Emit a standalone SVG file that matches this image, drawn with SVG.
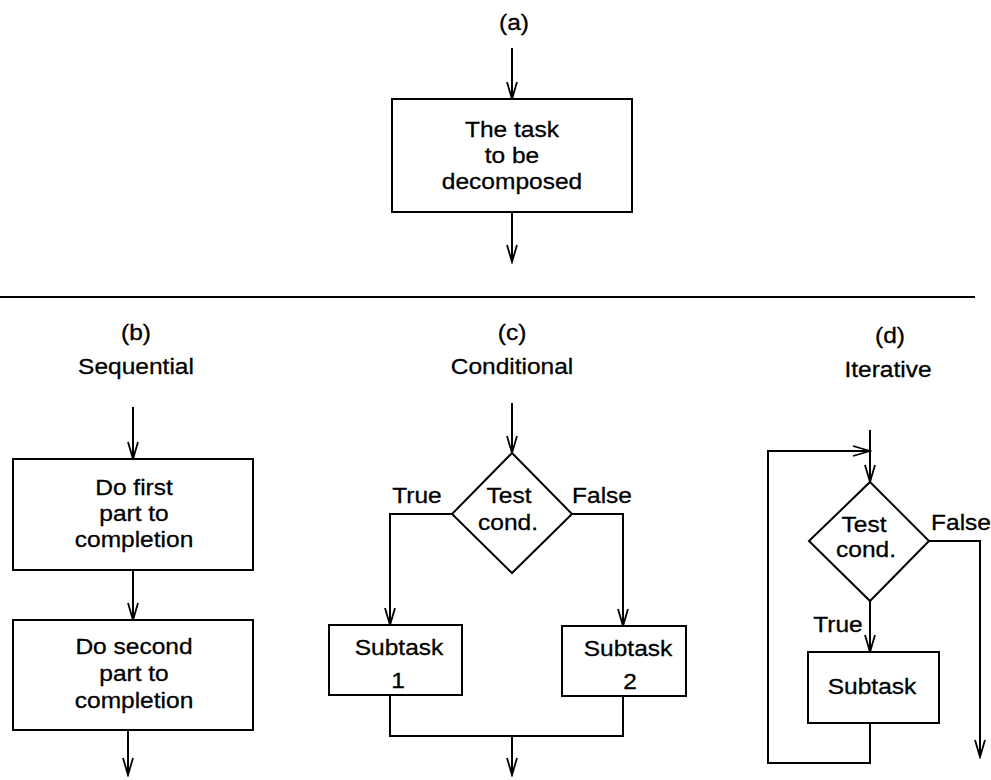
<svg xmlns="http://www.w3.org/2000/svg" width="991" height="780" viewBox="0 0 991 780">
<defs>
<marker id="arr" markerUnits="userSpaceOnUse" viewBox="-18 -7 20 14" refX="0" refY="0" markerWidth="20" markerHeight="14" orient="auto">
<path d="M -17 -5 L 0 0 L -17 5" fill="none" stroke="#000" stroke-width="1.8"/>
</marker>
</defs>
<style>
.ln{fill:none;stroke:#000;stroke-width:2}
.bx{fill:#fff;stroke:#000;stroke-width:2}
text{font-family:"Liberation Sans",Arial,Helvetica,sans-serif;font-size:22.5px;fill:#000;stroke:#000;stroke-width:0.3;text-anchor:middle}
</style>
<rect width="991" height="780" fill="#fff"/>
<g id="connectors">
<line class="ln" x1="512" y1="48" x2="512" y2="99" marker-end="url(#arr)"/>
<line class="ln" x1="512" y1="212" x2="512" y2="262" marker-end="url(#arr)"/>
<line class="ln" x1="0" y1="297" x2="975" y2="297"/>
<line class="ln" x1="133" y1="407" x2="133" y2="459" marker-end="url(#arr)"/>
<line class="ln" x1="133" y1="570" x2="133" y2="620" marker-end="url(#arr)"/>
<line class="ln" x1="128" y1="730" x2="128" y2="775" marker-end="url(#arr)"/>
<line class="ln" x1="512" y1="403" x2="512" y2="453" marker-end="url(#arr)"/>
<polyline class="ln" points="452,514 390,514 390,625" marker-end="url(#arr)"/>
<polyline class="ln" points="572,514 623,514 623,626" marker-end="url(#arr)"/>
<polyline class="ln" points="390,695 390,736 623,736 623,696"/>
<line class="ln" x1="512" y1="736" x2="512" y2="775" marker-end="url(#arr)"/>
<line class="ln" x1="870" y1="430" x2="870" y2="482" marker-end="url(#arr)"/>
<polyline class="ln" points="870,723 870,763 768,763 768,451 870,451" marker-end="url(#arr)"/>
<line class="ln" x1="870" y1="601" x2="870" y2="652" marker-end="url(#arr)"/>
<polyline class="ln" points="929,541 980,541 980,757" marker-end="url(#arr)"/>
</g>
<g id="labels">
<text transform="translate(514,30) scale(1.09,1)">(a)</text>
<text transform="translate(136,340) scale(1.09,1)">(b)</text>
<text transform="translate(136,374) scale(1.09,1)">Sequential</text>
<text transform="translate(512,340) scale(1.09,1)">(c)</text>
<text transform="translate(512,374) scale(1.09,1)">Conditional</text>
<text transform="translate(890,343) scale(1.09,1)">(d)</text>
<text transform="translate(888,377) scale(1.09,1)">Iterative</text>
<text transform="translate(417,503) scale(1.09,1)">True</text>
<text transform="translate(602,503) scale(1.09,1)">False</text>
<text transform="translate(838,632) scale(1.09,1)">True</text>
<text transform="translate(961,530) scale(1.09,1)">False</text>
</g>
<g id="task">
<rect class="bx" x="392" y="99" width="240" height="113"/>
<text transform="translate(512,137) scale(1.09,1)">The task</text>
<text transform="translate(512,163) scale(1.09,1)">to be</text>
<text transform="translate(512,189) scale(1.09,1)">decomposed</text>
</g>
<g id="seq1">
<rect class="bx" x="13" y="459" width="240" height="111"/>
<text transform="translate(134,495) scale(1.09,1)">Do first</text>
<text transform="translate(134,521) scale(1.09,1)">part to</text>
<text transform="translate(134,547) scale(1.09,1)">completion</text>
</g>
<g id="seq2">
<rect class="bx" x="13" y="620" width="240" height="110"/>
<text transform="translate(134,654) scale(1.09,1)">Do second</text>
<text transform="translate(134,681) scale(1.09,1)">part to</text>
<text transform="translate(134,708) scale(1.09,1)">completion</text>
</g>
<g id="cond-test">
<polygon class="bx" points="512,453 572,514 512,573 452,514"/>
<text transform="translate(509,503) scale(1.09,1)">Test</text>
<text transform="translate(508,530) scale(1.09,1)">cond.</text>
</g>
<g id="subtask1">
<rect class="bx" x="329" y="625" width="133" height="70"/>
<text transform="translate(399,655) scale(1.09,1)">Subtask</text>
<text transform="translate(398,688) scale(1.09,1)">1</text>
</g>
<g id="subtask2">
<rect class="bx" x="562" y="626" width="124" height="70"/>
<text transform="translate(628,656) scale(1.09,1)">Subtask</text>
<text transform="translate(630,689) scale(1.09,1)">2</text>
</g>
<g id="iter-test">
<polygon class="bx" points="870,482 929,541 870,601 809,541"/>
<text transform="translate(864,532) scale(1.09,1)">Test</text>
<text transform="translate(866,557) scale(1.09,1)">cond.</text>
</g>
<g id="iter-subtask">
<rect class="bx" x="808" y="652" width="131" height="71"/>
<text transform="translate(872,694) scale(1.09,1)">Subtask</text>
</g>
</svg>
